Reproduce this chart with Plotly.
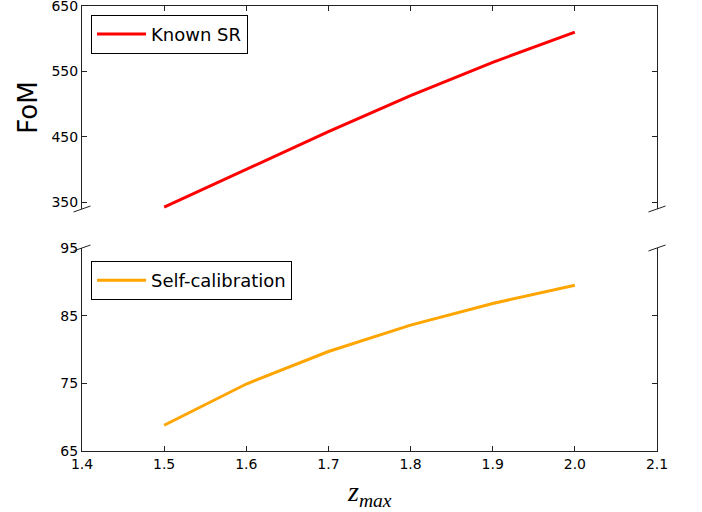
import plotly.graph_objects as go

z_max = [1.5, 1.6, 1.7, 1.8, 1.9, 2.0]
known_sr = [343, 400, 458, 513, 564, 610]
self_cal = [68.8, 74.9, 79.7, 83.6, 86.8, 89.5]

x_ticks = [1.4, 1.5, 1.6, 1.7, 1.8, 1.9, 2.0, 2.1]
top_ticks = [350, 450, 550, 650]
bot_ticks = [65, 75, 85, 95]

FONT = "DejaVu Sans"
AX = "#222222"

fig = go.Figure()
fig.add_trace(go.Scatter(x=z_max, y=known_sr, mode="lines", name="Known SR",
                         line=dict(color="#ff0000", width=3),
                         xaxis="x2", yaxis="y2", legend="legend"))
fig.add_trace(go.Scatter(x=z_max, y=self_cal, mode="lines", name="Self-calibration",
                         line=dict(color="#ffa500", width=3),
                         xaxis="x", yaxis="y", legend="legend2"))

top_dom = [0.5438, 1.0]
bot_dom = [0.0, 0.4562]

common_x = dict(range=[1.4, 2.1], tickvals=x_ticks, tickformat=".1f",
                ticks="inside", ticklen=5, tickcolor=AX, showline=True,
                linecolor=AX, linewidth=1, showgrid=False, zeroline=False,
                automargin=False, ticklabeloverflow="allow",
                tickfont=dict(family=FONT, size=14, color="black"))
common_y = dict(ticks="inside", ticklen=5, tickcolor=AX, showline=True,
                linecolor=AX, linewidth=1, showgrid=False, zeroline=False,
                mirror="ticks", automargin=False, ticklabeloverflow="allow",
                tickfont=dict(family=FONT, size=14, color="black"))

legend_style = dict(xanchor="left", yanchor="top", itemwidth=49,
                    bgcolor="white", bordercolor="black", borderwidth=1,
                    font=dict(family=FONT, size=18, color="black"))

fig.update_layout(
    width=702, height=512,
    margin=dict(l=82, r=45, t=6, b=61, autoexpand=False),
    paper_bgcolor="white", plot_bgcolor="white",
    xaxis=dict(domain=[0, 1], anchor="y", side="bottom", **common_x),
    yaxis=dict(domain=bot_dom, anchor="x", range=[65, 95], tickvals=bot_ticks, **common_y),
    xaxis2=dict(domain=[0, 1], anchor="y2", side="top", matches="x",
                showticklabels=False, **common_x),
    yaxis2=dict(domain=top_dom, anchor="x2", range=[340, 650], tickvals=top_ticks,
                title=dict(text="FoM", standoff=6,
                           font=dict(family=FONT, size=26, color="black")),
                **common_y),
    legend=dict(x=0.0157, y=0.98, **legend_style),
    legend2=dict(x=0.0157, y=0.427, **legend_style),
    showlegend=True,
)

# axis break marks
dx, dy = 0.0148, 0.0067
for xc in (0.0, 1.0):
    for yc in (top_dom[0], bot_dom[1]):
        fig.add_shape(type="line", xref="paper", yref="paper",
                      x0=xc - dx, y0=yc - dy, x1=xc + dx, y1=yc + dy,
                      line=dict(color=AX, width=1))

fig.add_annotation(text="<i>z</i><sub><i>max</i></sub>", xref="paper", yref="paper",
                   x=0.5, y=-0.14, showarrow=False,
                   font=dict(family="Liberation Serif", size=28, color="black"))

fig.write_html("out.html", config={"displayModeBar": False},
               post_script="document.body.style.margin='0';")
